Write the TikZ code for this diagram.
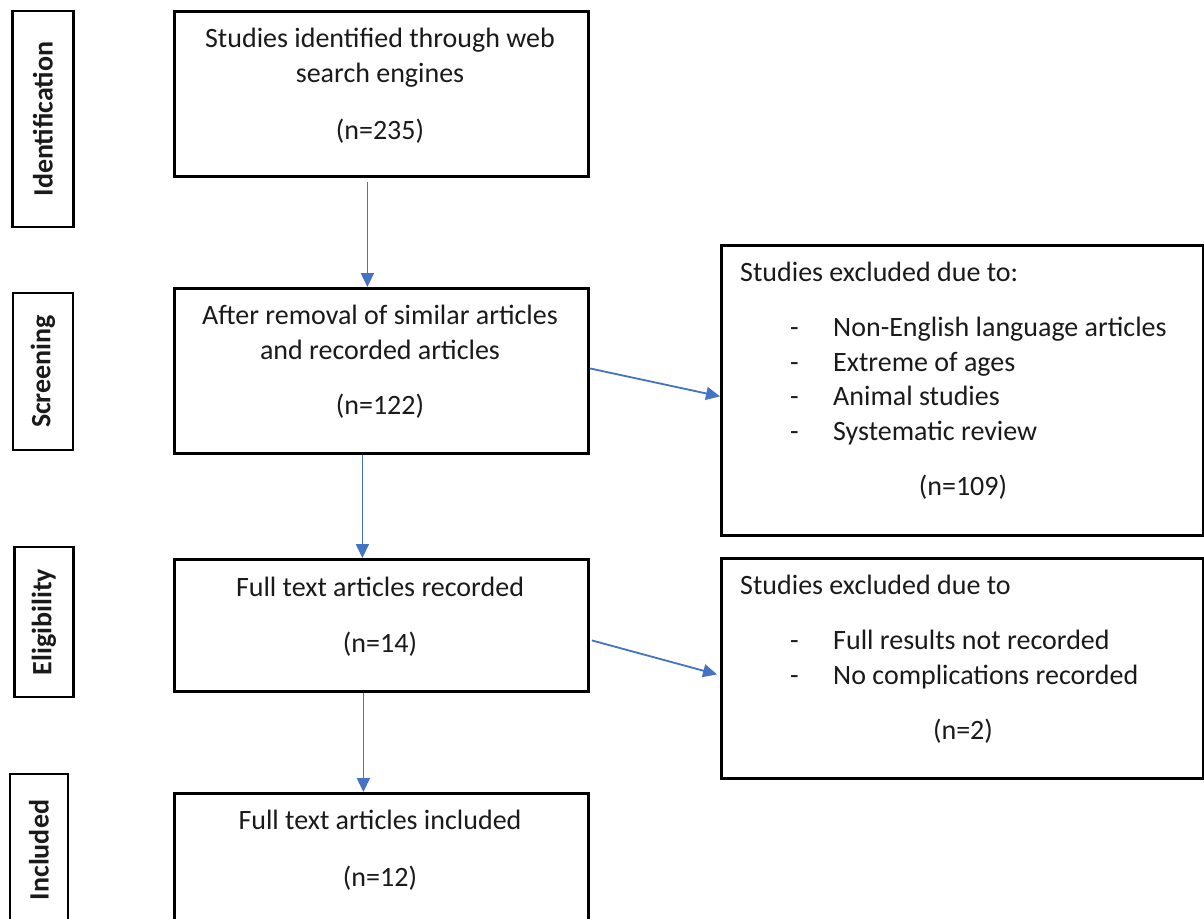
\documentclass[tikz,border=0pt]{standalone}
\usepackage{fontspec}
\setmainfont{Carlito}
\usetikzlibrary{arrows.meta}
\definecolor{arrowblue}{HTML}{4472C4}
\definecolor{txtcol}{HTML}{1A1A1A}
\begin{document}
\begin{tikzpicture}[x=1pt,y=-1pt,
  box/.style={draw=black, line width=2.8pt, minimum width=414pt, inner sep=0pt, anchor=north west},
  exbox/.style={draw=black, line width=2.8pt, minimum width=482pt, inner sep=0pt, anchor=north west},
  phase/.style={draw=black, line width=2.8pt, rotate=90, font=\fontsize{28}{34}\selectfont\bfseries, inner sep=0pt, text=txtcol},
  txt/.style={font=\fontsize{28}{35}\selectfont, inner sep=0pt, anchor=base, text=txtcol},
  ltxt/.style={font=\fontsize{28}{35}\selectfont, inner sep=0pt, anchor=base west, text=txtcol},
  flow/.style={draw=arrowblue, line width=1.8pt, -{Triangle[length=14pt,width=13pt]}}
]
\fill[white] (0,0) rectangle (1204,918);
\useasboundingbox (0,0) rectangle (1204,918);

% phase labels
\node[phase, minimum width=216pt, minimum height=61pt] (p1) at (43,119) {Identification};
\node[phase, minimum width=157pt, minimum height=60pt] (p2) at (43,371.5) {Screening};
\node[phase, minimum width=150pt, minimum height=59pt] (p3) at (44,622) {Eligibility};
\node[phase, minimum width=152pt, minimum height=58pt] (p4) at (39,850) {Included};

% main boxes
\node[box, minimum height=165pt] (b1) at (173,10) {};
\node[txt] (b1l1) at (380,47) {Studies identified through web};
\node[txt] (b1l2) at (380,82) {search engines};
\node[txt] (b1l3) at (380,139) {(n=235)};

\node[box, minimum height=165pt] (b2) at (173,287) {};
\node[txt] (b2l1) at (380,324) {After removal of similar articles};
\node[txt] (b2l2) at (380,359) {and recorded articles};
\node[txt] (b2l3) at (380,414) {(n=122)};

\node[box, minimum height=132pt] (b3) at (173,558) {};
\node[txt] (b3l1) at (380,596) {Full text articles recorded};
\node[txt] (b3l2) at (380,652) {(n=14)};

\node[box, minimum height=140pt] (b4) at (173,792) {};
\node[txt] (b4l1) at (380,829) {Full text articles included};
\node[txt] (b4l2) at (380,886) {(n=12)};

% exclusion boxes
\node[exbox, minimum height=290pt] (e1) at (720,244) {};
\node[ltxt] (e1t) at (740,281) {Studies excluded due to:};
\node[ltxt] (e1d1) at (790,336) {-};
\node[ltxt] (e1i1) at (833,336) {Non-English language articles};
\node[ltxt] (e1d2) at (790,371) {-};
\node[ltxt] (e1i2) at (833,371) {Extreme of ages};
\node[ltxt] (e1d3) at (790,405) {-};
\node[ltxt] (e1i3) at (833,405) {Animal studies};
\node[ltxt] (e1d4) at (790,440) {-};
\node[ltxt] (e1i4) at (833,440) {Systematic review};
\node[txt] (e1n) at (963,495) {(n=109)};

\node[exbox, minimum height=220pt] (e2) at (720,557) {};
\node[ltxt] (e2t) at (740,594) {Studies excluded due to};
\node[ltxt] (e2d1) at (790,649) {-};
\node[ltxt] (e2i1) at (833,649) {Full results not recorded};
\node[ltxt] (e2d2) at (790,684) {-};
\node[ltxt] (e2i2) at (833,684) {No complications recorded};
\node[txt] (e2n) at (963,739) {(n=2)};

% connectors
\draw[flow] ([xshift=-14pt,yshift=-4pt]b1.south) -- ([xshift=-14pt]b2.north);
\draw[flow] ([xshift=-19pt]b2.south) -- ([xshift=-19pt]b3.north);
\draw[flow] ([xshift=-18pt]b3.south) -- ([xshift=-18pt]b4.north);
\draw[flow] ([yshift=2.5pt]b2.east) -- ([yshift=-6pt]e1.west);
\draw[flow] ([xshift=2pt,yshift=-15pt]b3.east) -- ([xshift=-3pt,yshift=-6pt]e2.west);
\end{tikzpicture}
\end{document}
